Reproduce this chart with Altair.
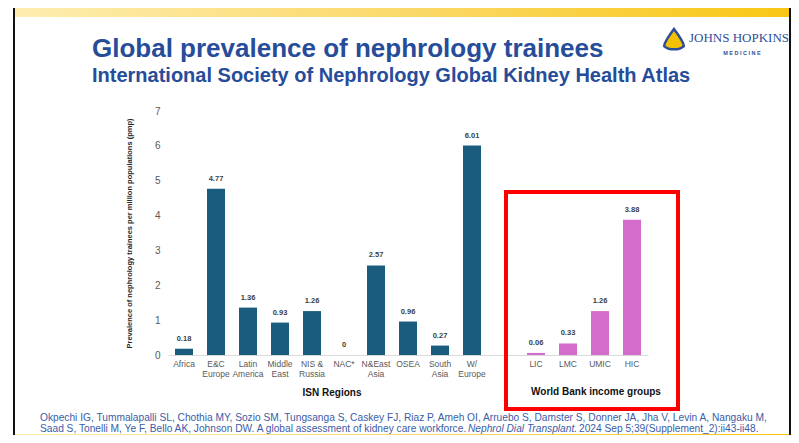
import altair as alt
import pandas as pd

# ---------------- data ----------------
isn_regions = ["Africa", "E&C|Europe", "Latin|America", "Middle|East", "NIS &|Russia",
               "NAC*", "N&East|Asia", "OSEA", "South|Asia", "W/|Europe"]
isn_values = [0.18, 4.77, 1.36, 0.93, 1.26, 0, 2.57, 0.96, 0.27, 6.01]
income_groups = ["LIC", "LMC", "UMIC", "HIC"]
income_values = [0.06, 0.33, 1.26, 3.88]
y_ticks = [0, 1, 2, 3, 4, 5, 6, 7]
spacer = [" "]

title_text = "Global prevalence of nephrology trainees"
subtitle_text = "International Society of Nephrology Global Kidney Health Atlas"
y_title = "Prevalence of nephrology trainees per million populations (pmp)"
isn_title = "ISN Regions"
income_title = "World Bank income groups"
cite_line1 = ("Okpechi IG, Tummalapalli SL, Chothia MY, Sozio SM, Tungsanga S, Caskey FJ, Riaz P, "
              "Ameh OI, Arruebo S, Damster S, Donner JA, Jha V, Levin A, Nangaku M,")
cite_line2a = "Saad S, Tonelli M, Ye F, Bello AK, Johnson DW. A global assessment of kidney care workforce."
cite_line2b = "Nephrol Dial Transplant."
cite_line2c = "2024 Sep 5;39(Supplement_2):ii43-ii48."
logo_main = "JOHNS HOPKINS"
logo_sub = "M E D I C I N E"

FONT = "Liberation Sans"
TITLE_BLUE = "#264C9A"
CITE_BLUE = "#3B5CA8"
ISN_COLOR = "#1A5C7E"
INC_COLOR = "#D46CCB"

# layout (page pixels); plot origin
OX, OY = 168, 111
W, H = 480, 244
SVG_W, SVG_H = 783, 427

domain = isn_regions + spacer + income_groups
df = pd.DataFrame({
    "cat": isn_regions + income_groups,
    "v": isn_values + income_values,
    "group": ["ISN"] * len(isn_regions) + ["Income"] * len(income_groups),
})

x_enc = alt.X(
    "cat:N",
    sort=domain,
    scale=alt.Scale(domain=domain, paddingInner=0.4375, paddingOuter=0.21875),
    axis=alt.Axis(
        title=None, labelAngle=0, ticks=False, domainColor="#D9D9D9", domainWidth=1,
        labelExpr="split(datum.label, '|')", labelFont=FONT, labelFontSize=8.5,
        labelColor="#595959", labelPadding=4, labelLineHeight=10, labelOverlap=False,
    ),
)
y_enc = alt.Y(
    "v:Q",
    scale=alt.Scale(domain=[0, 7], nice=False),
    axis=alt.Axis(
        values=y_ticks, tickCount=8, grid=False, domain=False, ticks=False, labelPadding=8,
        labelOverlap=False, labelFont=FONT, labelFontSize=10, labelColor="#595959",
        title=y_title, titleFont=FONT, titleFontSize=7.5, titleFontWeight="bold",
        titleColor="#262626", titleX=129 - OX, titleY=233 - OY, titleBaseline="middle",
        titleAngle=270,
    ),
)
color_enc = alt.Color("group:N", scale=alt.Scale(domain=["ISN", "Income"],
                                                 range=[ISN_COLOR, INC_COLOR]), legend=None)

base = alt.Chart(df)
bars = base.mark_bar().encode(x=x_enc, y=y_enc, color=color_enc)
labels = base.mark_text(font=FONT, fontSize=7.5, fontWeight="bold", color="#404040",
                        baseline="middle", dy=-10).encode(
    x=x_enc,
    y=y_enc,
    text=alt.Text("lbl:N"),
).transform_calculate(lbl="datum.v == 0 ? '0' : format(datum.v, '.2f')")


def txt(t, px, py, **kw):
    return alt.Chart(pd.DataFrame({"t": [t]})).mark_text(**kw).encode(
        x=alt.value(px - OX), y=alt.value(py - OY), text="t:N")


def box(px, px2, py, py2, **kw):
    return alt.Chart(pd.DataFrame({"a": [0]})).mark_rect(**kw).encode(
        x=alt.value(px - OX), x2=alt.value(px2 - OX),
        y=alt.value(py - OY), y2=alt.value(py2 - OY))


gold = alt.Gradient(gradient="linear",
                    stops=[alt.GradientStop(color="#FDEDB0", offset=0),
                           alt.GradientStop(color="#FBD96A", offset=0.5),
                           alt.GradientStop(color="#F8C714", offset=1)],
                    x1=0, x2=1, y1=0, y2=0)

decor = [
    box(15, 791, 8, 17, color=gold),
    box(15, 791, 434, 435, color=gold),
    box(13, 15, 8, 435, color="#111111"),
    box(789, 791, 8, 435, color="#111111"),
    box(506, 678, 192, 409, fill=None, fillOpacity=0, stroke="#FF0000", strokeWidth=4),
]

CF = 10.2
texts = [
    txt(title_text, 92, 57, font=FONT, fontSize=26, fontWeight="bold",
        color=TITLE_BLUE, align="left", baseline="alphabetic"),
    txt(subtitle_text, 92, 82, font=FONT, fontSize=20, fontWeight="bold",
        color=TITLE_BLUE, align="left", baseline="alphabetic"),
    txt(isn_title, 332, 393, font=FONT, fontSize=10, fontWeight="bold",
        color="#111111", align="center", baseline="middle"),
    txt(income_title, 596, 392, font=FONT, fontSize=10, fontWeight="bold",
        color="#111111", align="center", baseline="middle"),
    txt(cite_line1, 40, 420.5, font=FONT, fontSize=CF, color=CITE_BLUE,
        align="left", baseline="alphabetic"),
    txt(cite_line2a, 40, 432, font=FONT, fontSize=CF, color=CITE_BLUE,
        align="left", baseline="alphabetic"),
    txt(cite_line2b, 468, 432, font=FONT, fontSize=CF, fontStyle="italic",
        color=CITE_BLUE, align="left", baseline="alphabetic"),
    txt(cite_line2c, 579, 432, font=FONT, fontSize=CF, color=CITE_BLUE,
        align="left", baseline="alphabetic"),
    txt(logo_main, 689, 42, font="Liberation Serif", fontSize=13,
        color="#2E4D9B", align="left", baseline="alphabetic"),
    txt(logo_sub, 742, 53, font=FONT, fontSize=5.5, fontWeight="bold",
        color="#2E4D9B", align="center", baseline="middle"),
]

shield = alt.Chart(pd.DataFrame({"a": [0]})).mark_point(
    shape="M0,-1 C0.3,-0.6 0.9,0.2 0.9,0.55 C0.5,0.95 -0.5,0.95 -0.9,0.55 C-0.9,0.2 -0.3,-0.6 0,-1 Z",
    filled=True, fill="#F2C200", stroke="#2E4D9B", strokeWidth=2.5, size=480, opacity=1,
).encode(x=alt.value(674 - OX), y=alt.value(40 - OY))

chart = alt.layer(*decor, bars, labels, *texts, shield).properties(
    width=W, height=H,
    autosize=alt.AutoSizeParams(type="none"),
    padding={"left": OX - 8, "top": OY - 8,
             "right": SVG_W - (OX - 8) - W, "bottom": SVG_H - (OY - 8) - H},
    background="white",
).configure_view(stroke=None)

chart.save("out.html", embed_options={"renderer": "svg", "actions": False})
